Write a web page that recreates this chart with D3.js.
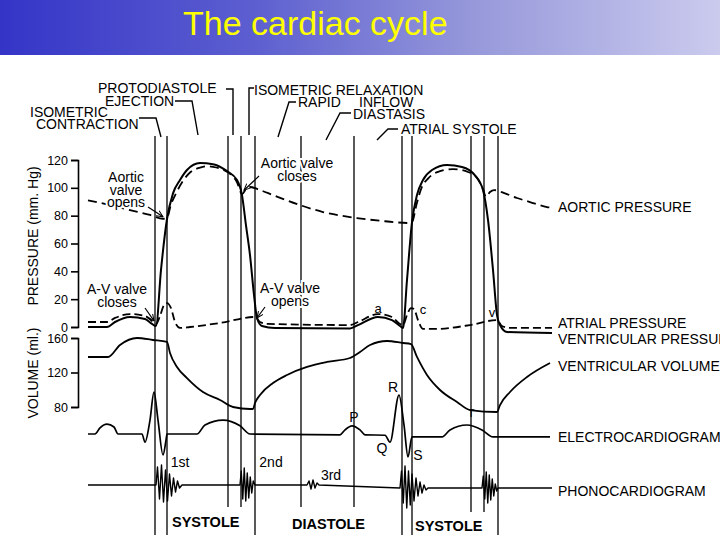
<!DOCTYPE html>
<html><head><meta charset="utf-8">
<script src="https://cdn.jsdelivr.net/npm/d3@7/dist/d3.min.js"></script>
<style>body{margin:0;background:#fff}</style>
</head><body>
<svg id="c" width="720" height="540"></svg>
<script>
// ---------- DATA (time in ms) ----------
const title = "The cardiac cycle";
const pressureTicks = [0, 20, 40, 60, 80, 100, 120];
const volumeTicks = [80, 120, 160];

const phaseBoundaries = [268, 316, 560, 612, 668, 852, 1064, 1256, 1296, 1532, 1584, 1640];
const boundaryReach   = ["full","full","mid","mid","full","mid","mid","full","full","mid2","mid2","full"];

const phaseNames = ["ISOMETRIC CONTRACTION", "EJECTION", "PROTODIASTOLE",
  "ISOMETRIC RELAXATION", "RAPID INFLOW", "DIASTASIS", "ATRIAL SYSTOLE"];
const phasePointer = [292, 440, 580, 644, 760, 952, 1156];

const aorticPressure = [[0,91],[88,87.6],[168,84],[248,80.5],[300,77.8],[316,78.5],[332,88],[352,96],
  [380,105],[408,111],[448,114.5],[476,115.5],[500,115],[540,113],[572,109.5],[596,104],[616,95.5],
  [632,99],[648,100.6],[688,98.4],[740,94.8],[848,87.6],[940,82.6],[1076,78.3],[1188,76],[1288,74.7],
  [1298,76],[1314,88],[1334,100],[1362,107],[1400,111.5],[1460,113.5],[1520,111.4],[1556,107],
  [1580,99],[1592,93.4],[1608,97],[1624,98.4],[1668,96],[1716,92.7],[1768,89.8],[1836,86.2],[1860,85.5]];

const ventricularPressure = [[0,0],[76,0],[108,3.6],[168,7.2],[228,5.7],[256,2.2],[272,0.7],[292,41],
  [316,77.6],[340,96],[368,105.6],[396,112.8],[448,117.8],[500,117],[556,112],[596,105.6],[616,94.8],
  [632,73],[648,51.7],[664,23],[676,6.5],[696,0.7],[748,-0.7],[1048,-1],[1080,1.4],[1160,7.2],
  [1216,5],[1248,0.7],[1260,-0.7],[1276,33.8],[1296,75.4],[1316,94.8],[1340,105.6],[1376,112.8],
  [1436,116.4],[1496,115],[1548,109],[1580,98.4],[1600,76.9],[1620,41],[1636,8.6],[1648,1.4],
  [1676,-3.6],[1856,-4.3]];

const atrialPressure = [[0,3.6],[76,3.6],[108,6.5],[168,9.3],[228,7.9],[256,4.3],[272,2.2],[288,7.9],
  [304,15.8],[316,17.2],[332,13.6],[348,3.6],[368,-0.7],[408,0],[528,2.9],[668,7.2],[688,3.6],
  [720,2.2],[1048,1.4],[1080,3.6],[1160,9.3],[1216,7.2],[1248,2.2],[1260,1.4],[1276,8.6],[1292,13.6],
  [1304,12.9],[1320,5],[1340,-1.4],[1388,-1.4],[1528,1.4],[1636,5],[1656,0.7],[1688,-0.7],[1856,-0.7]];

const ventricularVolume = [[0,138],[80,138],[128,151.9],[196,160],[260,157.7],[316,155.4],[328,142.6],
  [356,126.4],[396,113.6],[460,97.4],[528,88.1],[580,80],[648,77.7],[660,77.7],[668,84.6],[688,93.9],
  [740,107.8],[796,117.1],[876,126.4],[956,132.2],[1048,136.8],[1088,143.8],[1128,151.9],[1196,156.5],
  [1260,154.2],[1292,153],[1316,138],[1356,117.1],[1408,99.7],[1476,85.8],[1528,76.5],[1636,74.2],
  [1648,82.3],[1688,97.4],[1756,114.8],[1848,131]];

const ecg = [[0,0],[28,0],[48,0.15],[76,0.24],[104,0.17],[120,0],[216,0],[228,-0.2],[248,0.34],
  [264,1.02],[280,0.34],[300,-0.51],[312,-0.15],[316,0],[436,0],[468,0.22],[540,0.34],[608,0.2],
  [648,0],[1008,-0.02],[1028,0.1],[1056,0.2],[1088,0.1],[1108,-0.02],[1188,-0.03],[1208,-0.2],
  [1244,0.95],[1264,0.22],[1280,-0.56],[1296,-0.07],[1416,-0.07],[1448,0.1],[1516,0.22],[1576,0.1],
  [1620,-0.07],[1848,-0.07]];

const phono = [[0,0],[272,0],[278,0.9],[286,-0.7],[294,1.0],[302,-0.85],[310,0.75],[318,-0.8],[326,0.55],
  [334,-0.55],[342,0.35],[350,-0.35],[358,0.2],[366,-0.15],[376,0],
  [608,0],[613,0.7],[619,-0.7],[625,0.85],[631,-0.8],[637,0.6],[643,-0.65],[649,0.4],[655,-0.4],
  [661,0.2],[668,0],
  [876,0],[884,0.2],[892,-0.2],[900,0.25],[908,-0.15],[916,0.1],[924,0],
  [1248,-0.15],[1254,0.7],[1261,-0.9],[1268,0.95],[1275,-1.15],[1282,0.7],[1289,-1.0],[1296,0.55],
  [1304,-0.8],[1312,0.35],[1320,-0.55],[1328,0.15],[1336,-0.4],[1344,0],[1352,-0.25],[1360,-0.15],
  [1576,-0.15],[1581,0.45],[1587,-0.7],[1593,0.65],[1599,-0.9],[1605,0.5],[1611,-0.75],[1617,0.3],
  [1623,-0.55],[1629,0.05],[1635,-0.3],[1640,-0.15],[1856,-0.15]];

const seriesLabels = ["AORTIC PRESSURE","ATRIAL PRESSURE","VENTRICULAR PRESSURE",
  "VENTRICULAR VOLUME","ELECTROCARDIOGRAM","PHONOCARDIOGRAM"];
const bottomLabels = ["SYSTOLE","DIASTOLE","SYSTOLE"];
const heartSounds = ["1st","2nd","3rd"];
const ecgWaves = ["P","Q","R","S","T"];
const pressureWaves = ["a","c","v"];

// ---------- DRAWING ----------
const FONT = "'Liberation Sans', Arial, Helvetica, sans-serif";
const svg = d3.select("#c");
const defs = svg.append("defs");
const g0 = defs.append("linearGradient").attr("id","tg").attr("x1","0").attr("x2","1").attr("y1","0").attr("y2","0");
[["0%","#3435c7"],["35%","#5c5ed0"],["65%","#9597da"],["100%","#cbcbee"]].forEach(s =>
  g0.append("stop").attr("offset", s[0]).attr("stop-color", s[1]));
defs.append("marker").attr("id","ah").attr("viewBox","0 0 10 10").attr("refX",9).attr("refY",5)
  .attr("markerWidth",6).attr("markerHeight",6).attr("orient","auto")
  .append("path").attr("d","M0,1 L9,5 L0,9").attr("fill","none").attr("stroke","#000").attr("stroke-width",1.4);

svg.append("rect").attr("width",720).attr("height",540).attr("fill","#fff");
svg.append("rect").attr("width",720).attr("height",55).attr("fill","url(#tg)");
svg.append("text").attr("x",183).attr("y",35).text(title)
  .attr("font-family",FONT).attr("font-size",34).attr("fill","#ffff00");

const x = d3.scaleLinear().domain([0,1880]).range([88,558]);
const yP = d3.scaleLinear().domain([0,120]).range([327,160]);
const yV = d3.scaleLinear().domain([80,160]).range([407,338]);
const yE = d3.scaleLinear().domain([0,1]).range([434,393]);
const yS = d3.scaleLinear().domain([-1,1]).range([505,465]);

// phase boundary lines
const bottoms = {full:535, mid:507, mid2:512};
svg.append("g").selectAll("line").data(phaseBoundaries).join("line")
  .attr("x1", d => x(d)).attr("x2", d => x(d))
  .attr("y1", 136).attr("y2", (d,i) => bottoms[boundaryReach[i]])
  .attr("stroke","#000").attr("stroke-width",1.3);

// curves
const mk = (ys, curve) => d3.line().x(d => x(d[0])).y(d => ys(d[1])).curve(curve || d3.curveMonotoneX);
const curves = svg.append("g").attr("fill","none").attr("stroke","#000").attr("stroke-linejoin","round");
curves.append("path").attr("d", mk(yP)(aorticPressure)).attr("stroke-width",1.8).attr("stroke-dasharray","9,5");
curves.append("path").attr("d", mk(yP)(atrialPressure)).attr("stroke-width",1.8).attr("stroke-dasharray","8,4");
curves.append("path").attr("d", mk(yP)(ventricularPressure)).attr("stroke-width",2);
curves.append("path").attr("d", mk(yV)(ventricularVolume)).attr("stroke-width",1.8);
curves.append("path").attr("d", mk(yE)(ecg)).attr("stroke-width",1.7);
curves.append("path").attr("d", mk(yS, d3.curveLinear)(phono)).attr("stroke-width",1.4);

// axes
const axP = svg.append("g").attr("transform","translate(78,0)")
  .call(d3.axisLeft(yP).tickValues(pressureTicks).tickSize(7).tickSizeOuter(7).tickPadding(3));
const axV = svg.append("g").attr("transform","translate(78,0)")
  .call(d3.axisLeft(yV).tickValues(volumeTicks).tickSize(7).tickSizeOuter(7).tickPadding(3));
[axP, axV].forEach(a => {
  a.selectAll("path,line").attr("stroke","#000").attr("stroke-width",1.6);
  a.selectAll("text").attr("font-family",FONT).attr("font-size",12.5).attr("fill","#000");
});
svg.append("text").attr("transform","translate(38,236) rotate(-90)").attr("text-anchor","middle")
  .attr("font-family",FONT).attr("font-size",14).text("PRESSURE (mm. Hg)");
svg.append("text").attr("transform","translate(38,373) rotate(-90)").attr("text-anchor","middle")
  .attr("font-family",FONT).attr("font-size",14).text("VOLUME (ml.)");

// phase labels with leaders
const T = svg.append("g").attr("font-family",FONT).attr("font-size",14).attr("fill","#000");
const lead = svg.append("g").attr("fill","none").attr("stroke","#000").attr("stroke-width",1.4);
const txt = (s, px, py) => T.append("text").attr("x",px).attr("y",py).text(s);
txt("ISOMETRIC", 30, 117); txt("CONTRACTION", 36, 129);
lead.append("path").attr("d", `M139,118 H156 L${x(phasePointer[0])},137`);
txt("EJECTION", 105, 106);
lead.append("path").attr("d", `M175,101 H192 L${x(phasePointer[1])},135`);
txt("PROTODIASTOLE", 98, 93);
lead.append("path").attr("d", `M226,89 H${x(phasePointer[2])} V135`);
txt("ISOMETRIC  RELAXATION", 254, 95);
lead.append("path").attr("d", `M254,88 H${x(phasePointer[3])} V135`);
txt("RAPID", 298, 107); txt("INFLOW", 359, 107);
lead.append("path").attr("d", `M296,102 H289 L${x(phasePointer[4])},137`);
txt("DIASTASIS", 353, 119);
lead.append("path").attr("d", `M351,113 H340 L${x(phasePointer[5])},140`);
txt("ATRIAL  SYSTOLE", 401, 134);
lead.append("path").attr("d", `M398,129 H388 L${x(phasePointer[6])},140`);

// right-hand series labels
const RL = svg.append("g").attr("font-family",FONT).attr("font-size",14).attr("fill","#000");
const rly = [212, 328, 344, 371, 442, 496];
seriesLabels.forEach((s,i) => RL.append("text").attr("x",558).attr("y",rly[i]).text(s));

// annotations (with white halo)
const A = svg.append("g").attr("font-family",FONT).attr("font-size",14).attr("fill","#000")
  .attr("stroke","#fff").attr("stroke-width",4).attr("paint-order","stroke").attr("text-anchor","middle");
const ann = (lines, cx, y0) => lines.forEach((l,i) => A.append("text").attr("x",cx).attr("y",y0+i*12.5).text(l));
ann(["Aortic","valve","opens"], 126, 182);
ann(["Aortic  valve","closes"], 297, 168);
ann(["A-V valve","closes"], 117, 294);
ann(["A-V valve","opens"], 290, 293);
const arr = svg.append("g").attr("fill","none").attr("stroke","#000").attr("stroke-width",1.2);
const arrow = (x1,y1,x2,y2) => arr.append("line").attr("x1",x1).attr("y1",y1).attr("x2",x2).attr("y2",y2).attr("marker-end","url(#ah)");
arrow(148, 207, x(304)-1, yP(78.5)-1);
arrow(259, 176, x(632)-2, yP(99)+1);
arrow(145, 308, x(268)-1, yP(3)-2);
arrow(265, 307, x(668)+2, yP(7.2)+1);

// small wave letters
const W = svg.append("g").attr("font-family",FONT).attr("fill","#000").attr("text-anchor","middle");
[[pressureWaves[0],378,313],[pressureWaves[1],423,314],[pressureWaves[2],492,317]].forEach(d =>
  W.append("text").attr("x",d[1]).attr("y",d[2]).attr("font-size",13).text(d[0]));
[[ecgWaves[0],354,422,14],[ecgWaves[1],382,453,14],[ecgWaves[2],393,392,14],[ecgWaves[3],418,460,14],[ecgWaves[4],471,417,11]].forEach(d =>
  W.append("text").attr("x",d[1]).attr("y",d[2]).attr("font-size",d[3]).text(d[0]));
[[heartSounds[0],180,467],[heartSounds[1],271,467],[heartSounds[2],331,480]].forEach(d =>
  W.append("text").attr("x",d[1]).attr("y",d[2]).attr("font-size",14).text(d[0]));

// bottom labels
const B = svg.append("g").attr("font-family",FONT).attr("font-size",14.5).attr("font-weight","bold").attr("fill","#000");
[[bottomLabels[0],172,527],[bottomLabels[1],292,529],[bottomLabels[2],415,531]].forEach(d =>
  B.append("text").attr("x",d[1]).attr("y",d[2]).text(d[0]));
</script>
</body></html>
